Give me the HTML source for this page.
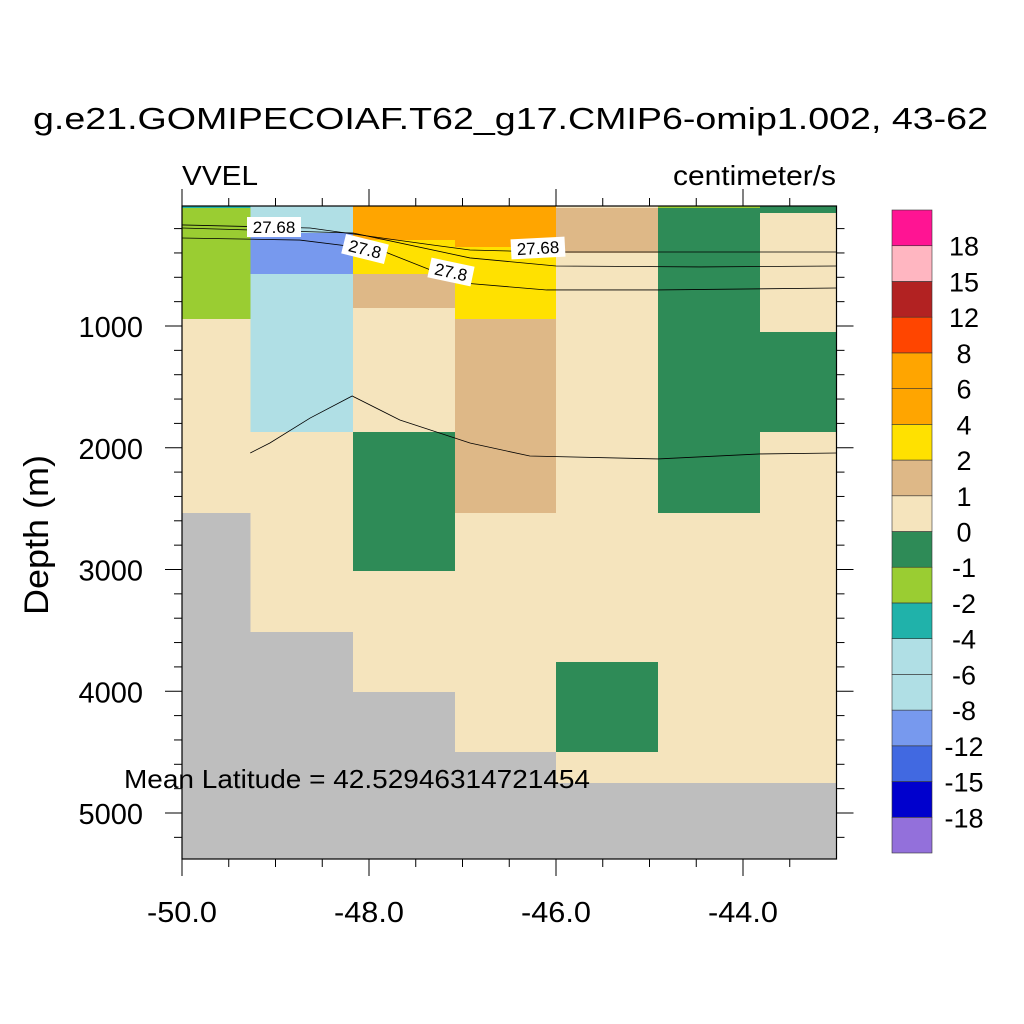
<!DOCTYPE html>
<html><head><meta charset="utf-8"><style>
html,body{margin:0;padding:0;background:#fff;}
svg{display:block;font-family:"Liberation Sans",sans-serif;}
</style></head><body>
<svg id="chart" width="1024" height="1024" viewBox="0 0 1024 1024">
<text x="33" y="129" font-size="31" textLength="955" lengthAdjust="spacingAndGlyphs">g.e21.GOMIPECOIAF.T62_g17.CMIP6-omip1.002, 43-62</text>
<text x="182" y="185" font-size="28" textLength="76" lengthAdjust="spacingAndGlyphs">VVEL</text>
<text x="673" y="185" font-size="28" textLength="163" lengthAdjust="spacingAndGlyphs">centimeter/s</text>
<text transform="translate(48,535) rotate(-90)" font-size="34" text-anchor="middle" textLength="160" lengthAdjust="spacingAndGlyphs">Depth (m)</text>
<g id="cells" shape-rendering="crispEdges"></g>
<g id="contours"></g>
<g id="axes"></g>
<g id="colorbar"></g>
<text x="124" y="788" font-size="26" textLength="466" lengthAdjust="spacingAndGlyphs">Mean Latitude = 42.52946314721454</text>
</svg>
<script>
const cellLon0=[-50,-50,-50,-49.27,-49.27,-49.27,-49.27,-48.17,-48.17,-48.17,-48.17,-48.17,-48.17,-47.08,-47.08,-47.08,-47.08,-46,-46,-46,-46,-46,-44.91,-44.91,-44.91,-43.82,-43.82,-43.82,-43.82];
const cellLon1=[-49.27,-49.27,-49.27,-48.17,-48.17,-48.17,-48.17,-47.08,-47.08,-47.08,-47.08,-47.08,-47.08,-46,-46,-46,-46,-44.91,-44.91,-44.91,-44.91,-44.91,-43.82,-43.82,-43.82,-43,-43,-43,-43];
const cellTop=[14,31,942,14,236,573,1871,14,294,573,852,1871,3012,14,351,942,2536,14,31,400,3760,4499,14,31,2536,14,72,1049,1871];
const cellBot=[31,942,2536,236,573,1871,3513,294,573,852,1871,3012,4006,351,942,2536,4499,31,400,3760,4499,4754,31,2536,4754,72,1049,1871,4754];
const cellVal=[-3,-1.5,0.5,-5,-10,-5,0.5,5,3,1.5,0.5,-0.5,0.5,5,3,1.5,0.5,0.5,1.5,0.5,-0.5,0.5,-1.5,-0.5,0.5,-0.5,0.5,-0.5,0.5];
const levels=[-18,-15,-12,-8,-6,-4,-2,-1,0,1,2,4,6,8,12,15,18];
const colors=["#9370db","#0000cd","#4169e1","#7799ee","#b0dfe5","#b0dfe5","#20b2aa","#9acd32","#2e8b57","#f5e4bd","#deb887","#ffe100","#ffa500","#ffa500","#ff4500","#b22222","#ffb6c1","#ff1493"];
const xTicks=[-50,-48,-46,-44];
const xTickLabels=["-50.0","-48.0","-46.0","-44.0"];
const yTicks=[1000,2000,3000,4000,5000];
const c1Lon=[-50,-48.63,-47.32,-46.92,-46.10,-43.0], c1Dep=[170,195,335,376,392,392];
const c2Lon=[-50,-48.17,-46.92,-46.0,-44.46,-43.0], c2Dep=[195,236,441,507,515,507];
const c3Lon=[-50,-48.74,-47.88,-46.99,-46.10,-44.91,-43], c3Dep=[277,294,376,647,704,704,688];
const c4Lon=[-49.27,-49.06,-48.63,-48.18,-47.67,-46.92,-46.28,-44.91,-43.82,-43.0], c4Dep=[2043,1961,1756,1575,1772,1961,2068,2092,2051,2043];
const NS="http://www.w3.org/2000/svg";
const X0=182,X1=836.5,Y0=206,Y1=859;
const xs=l=>X0+(l+50)*93.5;
const ys=d=>326+(d-1000)*0.12175;
function el(t,a,p){const e=document.createElementNS(NS,t);for(const k in a)e.setAttribute(k,a[k]);p.appendChild(e);return e;}
function colorFor(v){let i=0;while(i<levels.length&&v>=levels[i])i++;return colors[i];}
const cg=document.getElementById('cells');
const bg=el('rect',{x:X0,y:Y0,width:X1-X0,height:Y1-Y0,fill:'#bebebe'},cg);


for(let i=0;i<cellVal.length;i++){
  const x=xs(cellLon0[i]),y=ys(Math.max(cellTop[i],14.4));
  const r=el('rect',{x:x,y:y,width:xs(cellLon1[i])-x+0.5,height:ys(cellBot[i])-y,fill:colorFor(cellVal[i])},cg);
  
  
}
const kg=document.getElementById('contours');
[[c1Lon,c1Dep],[c2Lon,c2Dep],[c3Lon,c3Dep],[c4Lon,c4Dep]].forEach(([L,D])=>{
  const p=el('polyline',{points:L.map((l,i)=>xs(l)+','+ys(D[i])).join(' '),fill:'none',stroke:'#000','stroke-width':0.8},kg);
  
  
});
[["27.68",274,227,0],["27.8",365,249,14],["27.68",538,248,-3],["27.8",451,272,12]].forEach(([t,x,y,r])=>{
  const g=el('g',{transform:`translate(${x},${y}) rotate(${r})`},kg);
  
  
  const w=t.length*10+4;
  el('rect',{x:-w/2,y:-10,width:w,height:20,fill:'#fff'},g);
  el('text',{x:0,y:6,'font-size':17,'text-anchor':'middle'},g).textContent=t;
});
const ag=document.getElementById('axes');
el('rect',{x:X0,y:Y0,width:X1-X0,height:Y1-Y0,fill:'none',stroke:'#000','stroke-width':1.2},ag);
for(let l=-50;l<=-43.01;l+=0.5){
  const x=xs(l),maj=Math.abs(l/2-Math.round(l/2))<1e-6,len=maj?17:8;
  el('line',{x1:x,y1:Y1,x2:x,y2:Y1+len,stroke:'#000','stroke-width':1},ag);
  el('line',{x1:x,y1:Y0,x2:x,y2:Y0-len,stroke:'#000','stroke-width':1},ag);
}
xTicks.forEach((l,i)=>{const t=el('text',{x:xs(l),y:922,'font-size':29,'text-anchor':'middle',textLength:70,lengthAdjust:'spacingAndGlyphs'},ag);t.textContent=xTickLabels[i];
  });
for(let d=200;d<=5200;d+=200){
  const y=ys(d);if(y<Y0)continue;const len=d%1000===0?17:8;
  el('line',{x1:X0,y1:y,x2:X0-len,y2:y,stroke:'#000','stroke-width':1},ag);
  el('line',{x1:X1,y1:y,x2:X1+len,y2:y,stroke:'#000','stroke-width':1},ag);
}
yTicks.forEach(d=>{const t=el('text',{x:143,y:ys(d)+11,'font-size':29,'text-anchor':'end'},ag);t.textContent=d;
  });
const bgc=document.getElementById('colorbar');
const bx=892,bw=40,by=210,bh=643/18;
for(let i=0;i<18;i++){
  const r=el('rect',{x:bx,y:by+(17-i)*bh,width:bw,height:bh,fill:colors[i],stroke:'#333','stroke-width':0.6},bgc);
  
  
}
levels.forEach((v,i)=>{const t=el('text',{x:964,y:by+(17-i)*bh+10,'font-size':27,'text-anchor':'middle'},bgc);t.textContent=v;
  });
</script>
</body></html>
